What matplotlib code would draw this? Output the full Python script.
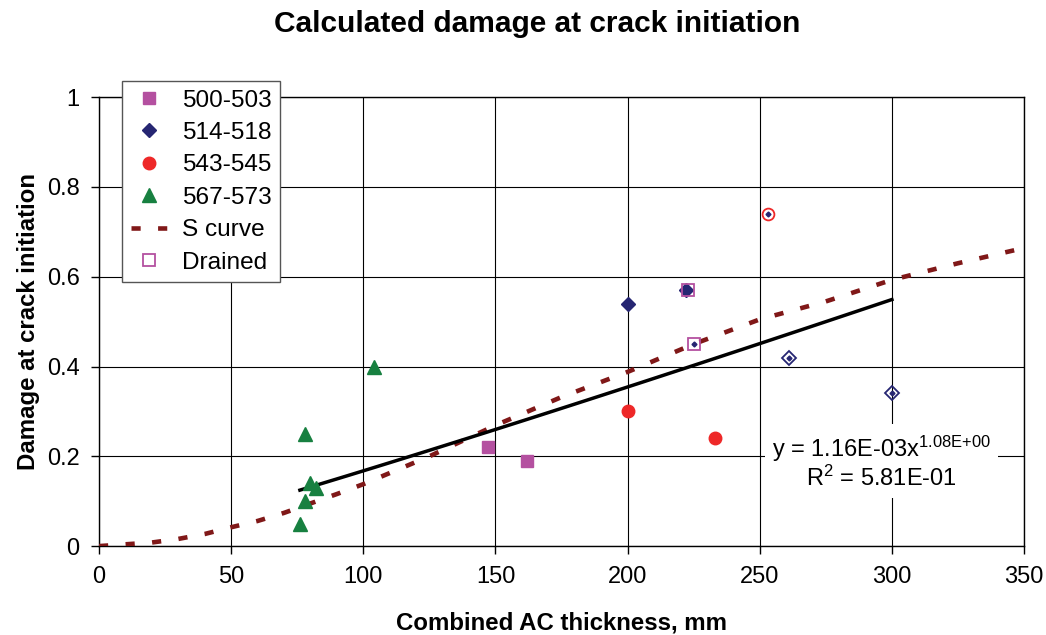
import numpy as np
import matplotlib
matplotlib.use("Agg")
import matplotlib.pyplot as plt
from matplotlib.ticker import FuncFormatter

plt.rcParams['font.family'] = ['Liberation Sans', 'DejaVu Sans']
plt.rcParams['mathtext.fontset'] = 'custom'
plt.rcParams['mathtext.rm'] = 'Liberation Sans'
plt.rcParams['mathtext.it'] = 'Liberation Sans'

# Data
x_500 = [147, 162]
y_500 = [0.22, 0.19]

x_514 = [200, 222]
y_514 = [0.54, 0.57]

x_543 = [200, 233]
y_543 = [0.30, 0.24]

x_567 = [76, 78, 78, 80, 82, 104]
y_567 = [0.05, 0.10, 0.25, 0.14, 0.13, 0.40]

# S curve
s_x = [0, 10, 20, 30, 40, 50, 60, 70, 80, 90, 100, 125, 150, 175, 200,
       225, 250, 275, 300, 325, 350]
s_y = [0.0, 0.004, 0.008, 0.016, 0.027, 0.042, 0.056, 0.074, 0.095, 0.116,
       0.138, 0.20, 0.269, 0.332, 0.388, 0.45, 0.505, 0.545, 0.593, 0.63, 0.664]

# Drained points (hollow squares)
x_drained = [223, 225]
y_drained = [0.57, 0.45]

# other hollow points with a small centre dot
x_open_circle = [253]
y_open_circle = [0.74]
x_open_diamond = [261, 300]
y_open_diamond = [0.42, 0.34]
x_dots = [225, 253, 261, 300]
y_dots = [0.45, 0.74, 0.42, 0.34]

# power trendline shown on chart
trend_a = 1.16e-03
trend_b = 1.08
trend_x = [76, 300]

c_mag = '#B450A0'
c_navy = '#262672'
c_red = '#EE2828'
c_green = '#178040'
c_scurve = '#801818'

fig = plt.figure(figsize=(10.46, 6.35), dpi=100)
ax = fig.add_axes([0.0947, 0.140, 0.8843, 0.707])

ax.grid(True, color='black', linewidth=0.8, zorder=0)
ax.set_axisbelow(True)

ax.plot(x_500, y_500, 's', color=c_mag, ms=8, ls='none', label='500-503', zorder=4)
ax.plot(x_514, y_514, 'D', color=c_navy, ms=7, ls='none', label='514-518', zorder=4)
ax.plot(x_543, y_543, 'o', color=c_red, ms=9, ls='none', label='543-545', zorder=4)
ax.plot(x_567, y_567, '^', color=c_green, ms=9.5, ls='none', label='567-573', zorder=4)
ax.plot(s_x, s_y, color=c_scurve, lw=3.3, ls=(0, (2, 3.8)), dash_capstyle='butt',
        label='S curve', zorder=3)
ax.plot(x_drained, y_drained, 's', mfc='none', mec=c_mag, mew=1.3, ms=8, ls='none',
        label='Drained', zorder=5)

ax.plot(x_open_circle, y_open_circle, 'o', mfc='none', mec=c_red, mew=1.3, ms=8.5,
        ls='none', zorder=5)
ax.plot(x_open_diamond, y_open_diamond, 'D', mfc='none', mec=c_navy, mew=1.3, ms=7,
        ls='none', zorder=5)
ax.plot(x_dots, y_dots, 'D', color=c_navy, ms=2.5, ls='none', zorder=6)

tx = np.linspace(trend_x[0], trend_x[1], 50)
ax.plot(tx, trend_a * tx ** trend_b, color='black', lw=2.5, zorder=3)

ax.text(296, 0.187, 'y = 1.16E-03x$^{\\mathrm{1.08E{+}00}}$\nR$^{\\mathrm{2}}$ = 5.81E-01',
        fontsize=17, ha='center', va='center', multialignment='center',
        linespacing=1.1,
        bbox=dict(boxstyle='square,pad=0.3', fc='white', ec='none'), zorder=4)

ax.set_xlim(0, 350)
ax.set_ylim(0, 1)
ax.set_xticks(np.arange(0, 351, 50))
ax.set_yticks(np.arange(0, 1.01, 0.2))
ax.yaxis.set_major_formatter(FuncFormatter(lambda v, p: '%g' % round(v, 1)))
ax.tick_params(direction='out', length=6, width=1, labelsize=17, color='black', pad=8)
for s in ax.spines.values():
    s.set_color('black')
    s.set_linewidth(1)

ax.set_xlabel('Combined AC thickness, mm', fontsize=17.3, fontweight='bold', labelpad=17)
ax.set_ylabel('Damage at crack initiation', fontsize=17.3, fontweight='bold', labelpad=5)

fig.text(0.514, 0.962, 'Calculated damage at crack initiation', fontsize=21.5,
         fontweight='bold', ha='center', va='center')

leg = ax.legend(loc='upper left', bbox_to_anchor=(122 / 1046, 1 - 81 / 635),
                bbox_transform=fig.transFigure, borderaxespad=0, fontsize=17.6,
                frameon=True, fancybox=False, edgecolor='#555555', framealpha=1,
                handlelength=1.5, handletextpad=0.6, labelspacing=0.42,
                borderpad=0.35)
leg.get_frame().set_linewidth(1)
leg.set_zorder(10)

fig.savefig('out.png', dpi=100)
